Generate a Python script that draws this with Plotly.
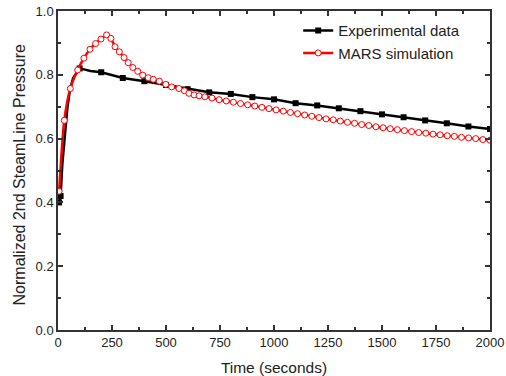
import plotly.graph_objects as go

# Experimental data (black line, square markers)
exp_t = [5, 12, 20, 32, 44, 56, 70, 85, 100, 120, 150, 200, 300, 400, 500, 600,
         700, 800, 900, 1000, 1100, 1200, 1300, 1400, 1500, 1600, 1700, 1800, 1900, 2000]
exp_v = [0.400, 0.420, 0.520, 0.620, 0.700, 0.755, 0.790, 0.805, 0.820, 0.817, 0.812, 0.808,
         0.790, 0.780, 0.768, 0.755, 0.745, 0.740, 0.730, 0.723, 0.711, 0.704, 0.695, 0.686,
         0.676, 0.667, 0.657, 0.648, 0.638, 0.630]
exp_marker_t = [5, 12, 100, 200, 300, 400, 500, 600, 700, 800, 900, 1000, 1100, 1200, 1300,
                1400, 1500, 1600, 1700, 1800, 1900, 2000]

# MARS simulation (red line, open circle markers)
sim_t = [5, 29, 57, 91, 120, 148, 174, 199, 225, 245, 264, 284, 306, 325, 346, 369, 392, 418,
         441, 469, 499, 526, 560, 585, 606, 630, 653,
         680, 713, 746, 779, 812, 845, 878, 911, 944, 977, 1010, 1043, 1076, 1109, 1142, 1175,
         1208, 1241, 1274, 1307, 1340, 1373, 1406, 1439, 1472, 1505, 1538, 1571, 1604, 1637,
         1670, 1703, 1736, 1769, 1802, 1835, 1868, 1901, 1934, 1967, 2000]
sim_v = [0.435, 0.657, 0.757, 0.815, 0.852, 0.880, 0.898, 0.912, 0.925, 0.914, 0.888, 0.872,
         0.854, 0.838, 0.823, 0.811, 0.799, 0.791, 0.786, 0.780, 0.770, 0.762, 0.757, 0.750,
         0.742, 0.737, 0.734,
         0.731, 0.727, 0.722, 0.718, 0.714, 0.710, 0.706, 0.702, 0.698, 0.694, 0.690, 0.686,
         0.682, 0.678, 0.674, 0.670, 0.666, 0.662, 0.659, 0.655, 0.651, 0.648, 0.644, 0.641,
         0.637, 0.634, 0.631, 0.628, 0.625, 0.622, 0.619, 0.617, 0.614, 0.612, 0.609, 0.607,
         0.604, 0.602, 0.600, 0.597, 0.595]

x_ticks = [0, 250, 500, 750, 1000, 1250, 1500, 1750, 2000]
y_ticks = [0.0, 0.2, 0.4, 0.6, 0.8, 1.0]

FONT = "Liberation Sans, Arial, sans-serif"
exp_mv = [exp_v[exp_t.index(t)] for t in exp_marker_t]

fig = go.Figure()
fig.add_trace(go.Scatter(x=exp_t, y=exp_v, mode="lines", line=dict(color="black", width=2.5),
                         showlegend=False, hoverinfo="skip"))
fig.add_trace(go.Scatter(x=exp_marker_t, y=exp_mv, mode="markers",
                         marker=dict(symbol="square", size=6, color="black"),
                         showlegend=False))
fig.add_trace(go.Scatter(x=sim_t, y=sim_v, mode="lines+markers",
                         line=dict(color="#ff0000", width=2.5, shape="spline", smoothing=0.6),
                         marker=dict(symbol="circle", size=6, color="white",
                                     line=dict(color="#ff0000", width=1)),
                         showlegend=False))
# legend entries
fig.add_trace(go.Scatter(x=[None], y=[None], mode="lines+markers", name="Experimental data",
                         line=dict(color="black", width=2.5),
                         marker=dict(symbol="square", size=6, color="black")))
fig.add_trace(go.Scatter(x=[None], y=[None], mode="lines+markers", name="MARS simulation",
                         line=dict(color="#ff0000", width=2.5),
                         marker=dict(symbol="circle", size=6, color="white",
                                     line=dict(color="#ff0000", width=1))))

axis_common = dict(showgrid=False, zeroline=False, showline=True, linecolor="#333",
                   linewidth=1.5, mirror="ticks", ticks="inside", ticklen=5, tickwidth=1.5,
                   tickcolor="#333", automargin=False,
                   tickfont=dict(family=FONT, size=13, color="#222"))

fig.update_layout(
    width=506, height=376,
    margin=dict(l=58, r=16, t=11, b=46),
    paper_bgcolor="white", plot_bgcolor="white",
    font=dict(family=FONT, color="#222"),
    xaxis=dict(range=[0, 2000], tickvals=x_ticks, ticktext=[str(v) for v in x_ticks],
               title=dict(text="Time (seconds)", font=dict(family=FONT, size=15.5, color="#222")),
               minor=dict(ticks="inside", ticklen=3, tickwidth=1.5, tickcolor="#333", dtick=125,
                          tick0=0),
               **axis_common),
    yaxis=dict(range=[0, 1.0], tickvals=y_ticks, ticktext=[f"{v:.1f}" for v in y_ticks],
               minor=dict(ticks="inside", ticklen=3, tickwidth=1.5, tickcolor="#333", dtick=0.1,
                          tick0=0),
               **axis_common),
    legend=dict(x=0.556, y=0.99, xanchor="left", yanchor="top", bgcolor="rgba(0,0,0,0)",
                font=dict(family=FONT, size=15, color="#222"), tracegroupgap=0,
                itemwidth=30),
    annotations=[dict(text="Normalized 2nd SteamLine Pressure", textangle=-90,
                      xref="paper", yref="paper", x=-0.0903, y=0.4875,
                      xanchor="center", yanchor="middle", showarrow=False,
                      font=dict(family=FONT, size=16, color="#222"))],
)

fig.write_html("out.html")
